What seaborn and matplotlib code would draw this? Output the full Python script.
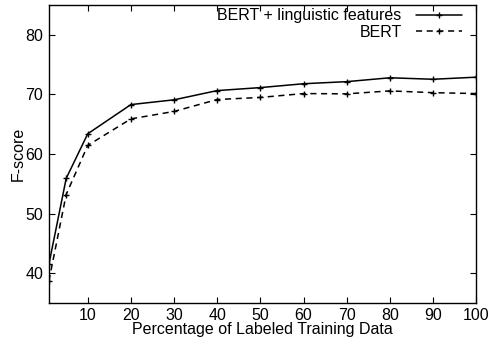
import numpy as np
import pandas as pd
import matplotlib
matplotlib.use("Agg")
import matplotlib.pyplot as plt
import seaborn as sns

# data
pct = [1, 5, 10, 20, 30, 40, 50, 60, 70, 80, 90, 100]
bert_ling = [41.5, 55.9, 63.4, 68.3, 69.1, 70.65, 71.15, 71.8, 72.15, 72.8, 72.55, 72.9]
bert = [38.7, 53.2, 61.45, 65.9, 67.15, 69.15, 69.5, 70.15, 70.1, 70.6, 70.3, 70.15]
series_names = ["BERT + linguistic features", "BERT"]
xticks = [10, 20, 30, 40, 50, 60, 70, 80, 90, 100]
yticks = [40, 50, 60, 70, 80]

df = pd.DataFrame({
    "pct": pct * 2,
    "score": bert_ling + bert,
    "model": [series_names[0]] * len(pct) + [series_names[1]] * len(pct),
})

sns.set_style("ticks")
plt.rcParams["font.family"] = ["Liberation Sans", "DejaVu Sans"]
plt.rcParams["text.color"] = "black"
plt.rcParams["axes.labelcolor"] = "black"
plt.rcParams["xtick.color"] = "black"
plt.rcParams["ytick.color"] = "black"
plt.rcParams["axes.edgecolor"] = "black"

fs = 11.5
fig, ax = plt.subplots(figsize=(4.94, 3.40), dpi=100)
sns.lineplot(data=df, x="pct", y="score", hue="model", style="model",
             palette=["black", "black"], dashes=[(None, None), (4, 3)],
             markers=["+", "+"], markersize=4.5, markeredgewidth=1.0,
             markeredgecolor="black", linewidth=1.1, ax=ax)

ax.set_xlim(1, 100)
ax.set_ylim(35, 85)
ax.set_xticks(xticks)
ax.set_yticks(yticks)
ax.tick_params(direction="in", top=True, right=True, length=4, width=0.8,
               labelsize=fs)
ax.tick_params(axis="x", pad=4)
ax.tick_params(axis="y", pad=4)
for s in ax.spines.values():
    s.set_linewidth(1.0)
    s.set_visible(True)
ax.set_xlabel("Percentage of Labeled Training Data", fontsize=fs, labelpad=-1)
ax.set_ylabel("F-score", fontsize=fs, labelpad=0)

handles, labels = ax.get_legend_handles_labels()
for h in handles:
    h.set_markeredgecolor("black")
ax.legend(handles, labels, loc="upper right", bbox_to_anchor=(0.975, 1.0),
          frameon=False, markerfirst=False,
          fontsize=fs, handlelength=2.9, borderaxespad=0.0, labelspacing=0.1,
          handletextpad=0.9, borderpad=0.2)

fig.subplots_adjust(left=0.099, right=0.964, top=0.985, bottom=0.109)
fig.savefig("out.png", dpi=100)
